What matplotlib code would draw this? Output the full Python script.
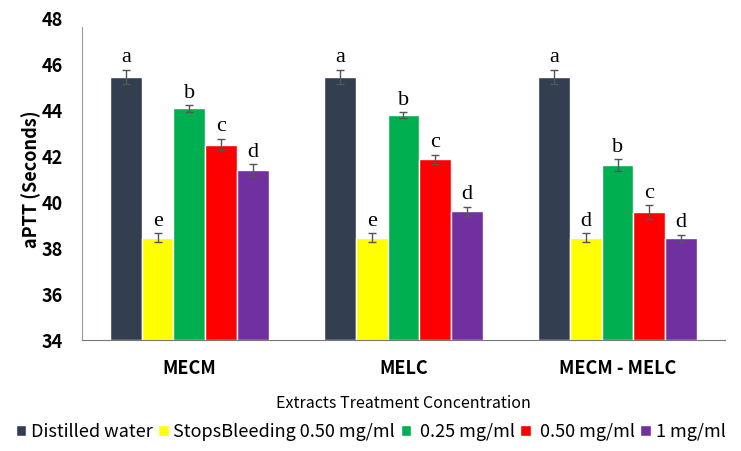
import numpy as np
import matplotlib.pyplot as plt

groups = ["MECM", "MELC", "MECM - MELC"]
series = ["Distilled water", "StopsBleeding 0.50 mg/ml", " 0.25 mg/ml", " 0.50 mg/ml", "1 mg/ml"]
colors = ["#333F50", "#FFFF00", "#00B050", "#FF0000", "#7030A0"]

# values per series, one entry per group
water = [45.45, 45.45, 45.45]
stops = [38.45, 38.45, 38.45]
c025 = [44.07, 43.78, 41.62]
c050 = [42.5, 41.86, 39.58]
c1 = [41.4, 39.6, 38.43]
values = [water, stops, c025, c050, c1]

err_water = [0.3, 0.3, 0.3]
err_stops = [0.2, 0.2, 0.2]
err_025 = [0.15, 0.12, 0.25]
err_050 = [0.25, 0.2, 0.3]
err_1 = [0.25, 0.2, 0.15]
errors = [err_water, err_stops, err_025, err_050, err_1]

letters = [["a", "a", "a"],
           ["e", "e", "d"],
           ["b", "b", "b"],
           ["c", "c", "c"],
           ["d", "d", "d"]]

plt.rcParams['font.family'] = ['Noto Sans CJK KR', 'DejaVu Sans']

fig = plt.figure(figsize=(7.41, 4.51), dpi=100)
ax = fig.add_axes([0.111, 0.246, 0.867, 0.714])

x = np.arange(len(groups))
w = 0.148
for i in range(len(series)):
    pos = x + (i - 2) * w
    ax.bar(pos, np.array(values[i]) - 34, w, bottom=34, color=colors[i],
           edgecolor="white", linewidth=1.0, label=series[i])
    ax.errorbar(pos, values[i], yerr=errors[i], fmt="none", ecolor="#555555",
                elinewidth=1, capsize=3, capthick=1)
    for j in range(len(groups)):
        ax.text(pos[j], values[i][j] + errors[i][j] + 0.1, letters[i][j],
                ha="center", va="bottom", fontsize=16, family="Liberation Serif")

ax.set_ylim(34, 48)
ax.set_xlim(-0.5, 2.5)
ax.set_yticks(np.arange(34, 49, 2))
ax.set_yticklabels([str(v) for v in range(34, 49, 2)], fontweight="bold", fontsize=13)
ax.set_xticks(x)
ax.set_xticklabels(groups, fontweight="bold", fontsize=13)
ax.tick_params(axis="x", length=0, pad=14)
ax.tick_params(axis="y", length=0, pad=14)
ax.set_ylabel("aPTT (Seconds)", fontweight="bold", fontsize=13, labelpad=0)
ax.set_xlabel("Extracts Treatment Concentration", fontsize=11.5, labelpad=12)

ax.spines["top"].set_visible(False)
ax.spines["right"].set_visible(False)
ax.spines["left"].set_color("#999999")
ax.spines["bottom"].set_color("#777777")
ax.spines["left"].set_bounds(34, 47.6)

fig.legend(loc="center", bbox_to_anchor=(0.5, 0.042), ncol=5, frameon=False,
           fontsize=13, handlelength=0.6, handleheight=0.6, handletextpad=0.25,
           columnspacing=0.3)

fig.savefig("out.png", dpi=100)
